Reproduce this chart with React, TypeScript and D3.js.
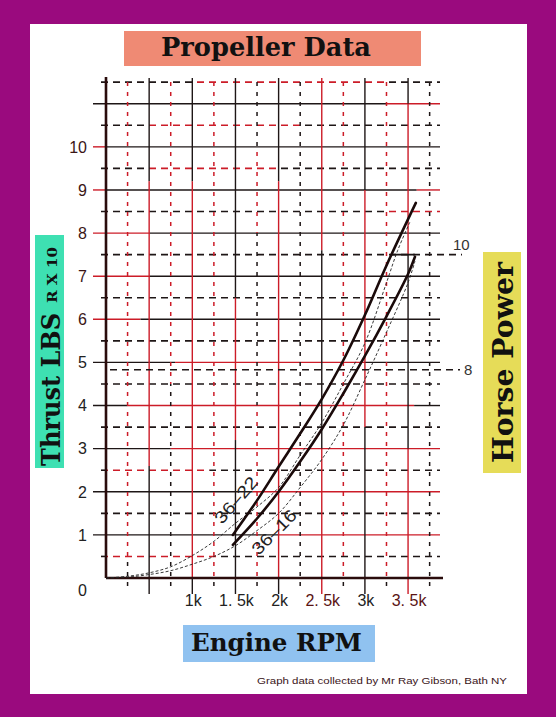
import React from 'react';
import * as d3 from 'd3';

// grid ticks (rpm along x, thrust x10 lbs along y)
const rpmMajor = [500, 1000, 1500, 2000, 2500, 3000, 3500];
const rpmMinor = [250, 750, 1250, 1750, 2250, 2750, 3250, 3750];
const thrustMajor = [1, 2, 3, 4, 5, 6, 7, 8, 9, 10, 11];
const thrustMinor = [0.5, 1.5, 2.5, 3.5, 4.5, 5.5, 6.5, 7.5, 8.5, 9.5, 10.5, 11.5];

const rpmTickValues = [1000, 1500, 2000, 2500, 3000, 3500];
const rpmTickText = ['1k', '1. 5k', '2k', '2. 5k', '3k', '3. 5k'];
const thrustTickValues = [1, 2, 3, 4, 5, 6, 7, 8, 9, 10];

// horse power reference marks on the right
const hpThrust = [7.5, 4.83];
const hpText = ['10', '8'];

// thrust curves
const rpm22 = [1470, 1750, 2000, 2250, 2500, 2750, 3000, 3250, 3590];
const thrust22 = [1.0, 1.8, 2.58, 3.35, 4.15, 5.05, 6.1, 7.25, 8.7];
const rpm16 = [1470, 1750, 2000, 2250, 2500, 2750, 3000, 3250, 3500, 3580];
const thrust16 = [0.77, 1.38, 2.0, 2.7, 3.45, 4.28, 5.15, 6.07, 7.05, 7.45];

// thin dashed horse power curves
const rpmHpA = [0, 250, 500, 750, 1000, 1250, 1500, 1750, 2000, 2250, 2500, 2750, 3000, 3250, 3380, 3520];
const hpA = [0, 0.04, 0.12, 0.26, 0.52, 0.85, 1.27, 1.65, 2.1, 2.85, 3.6, 4.5, 5.45, 6.85, 7.6, 8.25];
const rpmHpB = [0, 250, 500, 750, 1000, 1250, 1500, 1750, 2000, 2250, 2500, 2750, 3000, 3250, 3500, 3580];
const hpB = [0, 0.02, 0.08, 0.17, 0.32, 0.5, 0.75, 1.1, 1.5, 2.1, 2.75, 3.55, 4.6, 5.7, 6.85, 7.35];

// where the scanned grid is drawn in red instead of black
const hRed: Record<string, [number, number][]> = {
  '11.5': [[1000, 3250]],
  '11': [[3250, 3900]],
  '10.5': [[500, 2250]],
  '10': [[-200, 0]],
  '9.5': [[500, 2000]],
  '9': [[-200, 0], [3600, 3900]],
  '8.5': [[3250, 3900]],
  '8': [[-200, 500]],
  '7': [[-200, 500]],
  '6': [[-200, 400]],
  '5': [[800, 3000]],
  '4': [[250, 3570]],
  '3': [[750, 3900]],
  '2.5': [[0, 1200]],
  '2': [[1700, 3900]],
  '1': [[2000, 3900]],
  '0.5': [[0, 1300]],
};
const vRed: Record<string, [number, number][]> = {
  '250': [[0.5, 12]],
  '500': [[2.6, 9.2]],
  '750': [[4.5, 12]],
  '1000': [[0, 9.2]],
  '1250': [[0, 12]],
  '1500': [[3.2, 6.5]],
  '1750': [[0, 4], [8, 10]],
  '2000': [[0, 9.2]],
  '2500': [[-1, 3], [7.6, 12]],
  '2750': [[0, 12]],
  '3000': [[3.5, 9]],
  '3250': [[0, 12]],
  '3500': [[-1, 3], [7.5, 11]],
};

const RED = '#cc1c28';
const INK = '#1e1616';

const x = d3.scaleLinear().domain([0, 3870]).range([106, 440]);
const y = d3.scaleLinear().domain([0, 11.62]).range([578, 77]);

type Seg = { a: number; b: number; red: boolean };

// split a line [a,b] (pixels) into black / red pieces
function split(a: number, b: number, reds: [number, number][]): Seg[] {
  const spans = reds
    .map(([s, e]) => [Math.max(a, Math.min(s, e)), Math.min(b, Math.max(s, e))])
    .filter(([s, e]) => e > s)
    .sort((p, q) => p[0] - q[0]);
  const out: Seg[] = [];
  let cur = a;
  for (const [s, e] of spans) {
    if (s > cur) out.push({ a: cur, b: s, red: false });
    if (e > cur) out.push({ a: Math.max(s, cur), b: e, red: true });
    cur = Math.max(cur, e);
  }
  if (cur < b) out.push({ a: cur, b, red: false });
  return out;
}

function HLine({ v, dashed, x0, x1, k }: { v: number; dashed: boolean; x0: number; x1: number; k: string }) {
  const reds = (hRed[String(v)] || []).map(([s, e]) => [x(s), x(e)] as [number, number]);
  const yy = y(v);
  return (
    <g>
      {split(x0, x1, reds).map((s, i) => (
        <line
          key={k + i}
          x1={s.a}
          x2={s.b}
          y1={yy}
          y2={yy}
          stroke={s.red ? RED : INK}
          strokeWidth={dashed ? 1.6 : 1.4}
          strokeDasharray={dashed ? '7 5' : undefined}
          strokeDashoffset={dashed ? s.a - x0 : undefined}
        />
      ))}
    </g>
  );
}

function VLine({ v, dashed, y0, y1, k }: { v: number; dashed: boolean; y0: number; y1: number; k: string }) {
  const reds = (vRed[String(v)] || []).map(([s, e]) => [y(e), y(s)] as [number, number]);
  const xx = x(v);
  return (
    <g>
      {split(y0, y1, reds).map((s, i) => (
        <line
          key={k + i}
          x1={xx}
          x2={xx}
          y1={s.a}
          y2={s.b}
          stroke={s.red ? RED : INK}
          strokeWidth={dashed ? 1.5 : 1.4}
          strokeDasharray={dashed ? '4 6' : undefined}
          strokeDashoffset={dashed ? s.a - y0 : undefined}
        />
      ))}
    </g>
  );
}

const App: React.FC = () => {
  const line = d3
    .line<[number, number]>()
    .x(d => x(d[0]))
    .y(d => y(d[1]))
    .curve(d3.curveCatmullRom.alpha(0.5));

  const c22 = line(rpm22.map((r, i) => [r, thrust22[i]]))!;
  const c16 = line(rpm16.map((r, i) => [r, thrust16[i]]))!;
  const cA = line(rpmHpA.map((r, i) => [r, hpA[i]]))!;
  const cB = line(rpmHpB.map((r, i) => [r, hpB[i]]))!;

  const sans = 'Liberation Sans, Arial, sans-serif';
  const serif = 'DejaVu Serif, serif';

  return (
    <svg width={556} height={717} style={{ position: 'absolute', left: 0, top: 0 }}>
      <rect x={0} y={0} width={556} height={717} fill="#9a0a7e" />
      <rect x={30} y={24} width={497} height={670} fill="#ffffff" />

      {/* title */}
      <rect x={124} y={31} width={297} height={35} fill="#ef8a74" />
      <text x={161} y={56} fontFamily={serif} fontWeight={900} fontSize={26} textLength={210} lengthAdjust="spacingAndGlyphs" fill="#111">
        Propeller Data
      </text>

      {/* grid */}
      {thrustMinor.map(v => (
        <HLine key={'hm' + v} k={'hm' + v} v={v} dashed x0={101} x1={v === 7.5 ? 462 : 440} />
      ))}
      {thrustMajor.map(v => (
        <HLine key={'hM' + v} k={'hM' + v} v={v} dashed={false} x0={93} x1={440} />
      ))}
      {rpmMinor.map(v => (
        <VLine key={'vm' + v} k={'vm' + v} v={v} dashed y0={82} y1={587} />
      ))}
      {rpmMajor.map(v => (
        <VLine key={'vM' + v} k={'vM' + v} v={v} dashed={false} y0={78} y1={594} />
      ))}

      {/* horse power reference line that is not a grid line */}
      <line x1={110} x2={460} y1={y(hpThrust[1])} y2={y(hpThrust[1])} stroke={INK} strokeWidth={1.7} strokeDasharray="7 5" />
      <line x1={392} x2={x(rpm16[rpm16.length - 1])} y1={y(hpThrust[0])} y2={y(hpThrust[0])} stroke={INK} strokeWidth={1.8} />
      <text x={453} y={y(hpThrust[0]) - 5} fontFamily={sans} fontSize={15} fill="#333">
        {hpText[0]}
      </text>
      <text x={464} y={y(hpThrust[1])} dy="0.36em" fontFamily={sans} fontSize={15} fill="#333">
        {hpText[1]}
      </text>

      {/* axes */}
      <line x1={x(0)} x2={x(0)} y1={77} y2={y(0)} stroke="#2a0c0c" strokeWidth={2.6} />
      <line x1={x(0)} x2={443} y1={y(0)} y2={y(0)} stroke="#2a0c0c" strokeWidth={2.6} />

      {/* y tick labels */}
      {thrustTickValues.map(v => (
        <text key={'yt' + v} x={87} y={y(v)} dy="0.36em" textAnchor="end" fontFamily={sans} fontSize={16} fill={v >= 6 ? '#3a1616' : '#222'}>
          {v}
        </text>
      ))}
      <text x={87} y={y(0) + 12} dy="0.36em" textAnchor="end" fontFamily={sans} fontSize={16} fill="#222">
        0
      </text>

      {/* x tick labels */}
      {rpmTickValues.map((v, i) => (
        <text key={'xt' + v} x={x(v) + 1} y={606} textAnchor="middle" fontFamily={sans} fontSize={16} fill={i === 3 || i === 5 ? '#5a1414' : '#222'}>
          {rpmTickText[i]}
        </text>
      ))}

      {/* curves */}
      <path d={cA} fill="none" stroke="#222" strokeWidth={0.9} strokeDasharray="3 2" />
      <path d={cB} fill="none" stroke="#222" strokeWidth={0.9} strokeDasharray="3 2" />
      <path d={c22} fill="none" stroke="#1a0a0a" strokeWidth={2.6} strokeLinecap="round" />
      <path d={c16} fill="none" stroke="#1a0a0a" strokeWidth={2.6} strokeLinecap="round" />

      <text transform="translate(236,500) rotate(-49)" textAnchor="middle" dy="0.35em" fontFamily={sans} fontSize={17} textLength={56} lengthAdjust="spacingAndGlyphs" fill="#222">
        36–22
      </text>
      <text transform="translate(274,532) rotate(-45)" textAnchor="middle" dy="0.35em" fontFamily={sans} fontSize={17} textLength={56} lengthAdjust="spacingAndGlyphs" fill="#222">
        36–16
      </text>

      {/* left axis title */}
      <rect x={35} y={235} width={29} height={233} fill="#3ee0b2" />
      <text transform="translate(60,466) rotate(-90)" fontFamily={serif} fontWeight={900} fontSize={26} textLength={153} lengthAdjust="spacingAndGlyphs" fill="#111">
        Thrust LBS
      </text>
      <text transform="translate(57,303) rotate(-90)" fontFamily={serif} fontWeight={900} fontSize={12} textLength={56} lengthAdjust="spacingAndGlyphs" fill="#111">
        R X 10
      </text>

      {/* right axis title */}
      <rect x={483} y={252} width={38} height={221} fill="#e6dc58" />
      <text transform="translate(513,463) rotate(-90)" fontFamily={serif} fontWeight={900} fontSize={28} textLength={201} lengthAdjust="spacingAndGlyphs" fill="#111">
        Horse Power
      </text>

      {/* x axis title */}
      <rect x={183} y={625} width={192} height={37} fill="#90c2f0" />
      <text x={191} y={651} fontFamily={serif} fontWeight={900} fontSize={24} textLength={171} lengthAdjust="spacingAndGlyphs" fill="#111">
        Engine RPM
      </text>

      <text x={257} y={684} fontFamily={sans} fontSize={9.5} textLength={250} lengthAdjust="spacingAndGlyphs" fill="#3a1418">
        Graph data collected by Mr Ray Gibson, Bath NY
      </text>
    </svg>
  );
};

export default App;
